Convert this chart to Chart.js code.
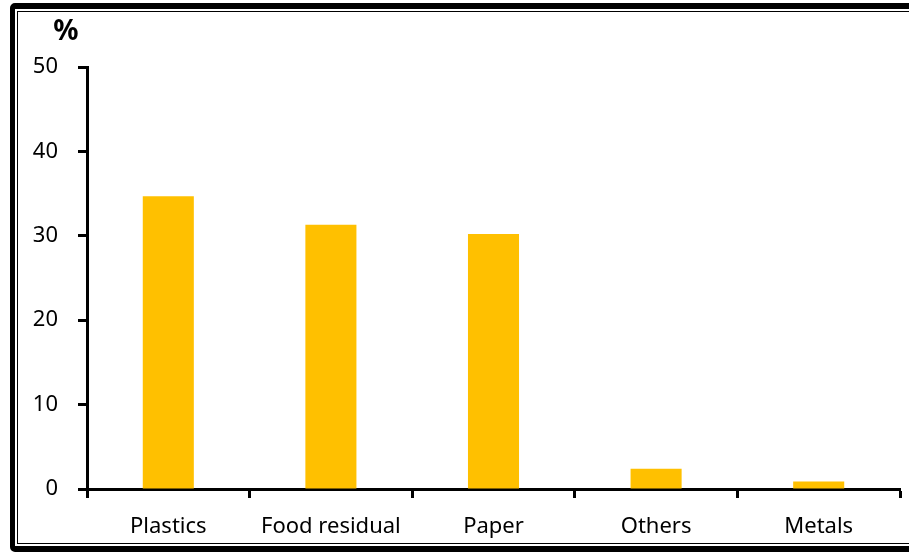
<!DOCTYPE html>
<html>
<head>
<meta charset="utf-8">
<script src="https://cdn.jsdelivr.net/npm/chart.js@4/dist/chart.umd.min.js"></script>
<style>
	html, body { margin: 0; padding: 0; background: #fff; overflow: hidden; }
	#wrap { position: relative; width: 909px; height: 552px; }
	#frame {
		position: absolute; left: 10px; top: 3px; width: 1000px; height: 549px;
		box-sizing: border-box; border: 6px solid #000; border-left-width: 5px;
		border-radius: 5px 0 0 5px;
	}
	#frame .inner {
		position: absolute; left: 2px; top: 2px; right: 2px; bottom: 2px;
		border: 1px solid #000;
	}
	canvas { position: absolute; left: 0; top: 0; }
</style>
</head>
<body>
<div id="wrap">
	<div id="frame"><div class="inner"></div></div>
	<canvas id="waste-chart" width="909" height="552"></canvas>
</div>
<script>
	var categories = ['Plastics', 'Food residual', 'Paper', 'Others', 'Metals'];
	var shares = [34.7, 31.3, 30.2, 2.4, 0.9];
	var unitLabel = '%';

	var fontFamily = "'Noto Sans', 'Open Sans', sans-serif";

	// draws the unit label above the value axis
	var unitPlugin = {
		id: 'unitLabel',
		afterDraw: function(chart) {
			var ctx = chart.ctx;
			var area = chart.chartArea;
			ctx.save();
			ctx.font = 'bold 28px ' + fontFamily;
			ctx.fillStyle = '#000';
			ctx.textAlign = 'center';
			ctx.textBaseline = 'middle';
			ctx.fillText(unitLabel, area.left - 21, area.top - 35);
			ctx.restore();
		}
	};

	var ctx = document.getElementById('waste-chart');

	var chart = new Chart(ctx, {
		type: 'bar',
		data: {
			labels: categories,
			datasets: [{
				data: shares,
				backgroundColor: '#FFC000',
				borderWidth: 0,
				categoryPercentage: 1,
				barPercentage: 0.314
			}]
		},
		options: {
			responsive: false,
			animation: false,
			layout: { padding: { left: 0, top: 67, right: 9, bottom: 0 } },
			plugins: {
				legend: { display: false },
				tooltip: { enabled: false }
			},
			scales: {
				x: {
					grid: {
						offset: true,
						drawOnChartArea: false,
						drawTicks: true,
						tickLength: 9,
						tickWidth: 3,
						tickColor: '#000'
					},
					border: { display: true, width: 3, color: '#000' },
					ticks: {
						color: '#000',
						padding: 16,
						font: { family: fontFamily, size: 22 }
					},
					afterFit: function(scale) { scale.height = 63; }
				},
				y: {
					min: 0,
					max: 50,
					ticks: {
						stepSize: 10,
						color: '#000',
						padding: 20,
						font: { family: fontFamily, size: 22 }
					},
					grid: {
						drawOnChartArea: false,
						drawTicks: true,
						tickLength: 9,
						tickWidth: 3,
						tickColor: '#000'
					},
					border: { display: true, width: 3, color: '#000' },
					afterFit: function(scale) { scale.width = 87; }
				}
			}
		},
		plugins: [unitPlugin]
	});
</script>
</body>
</html>
